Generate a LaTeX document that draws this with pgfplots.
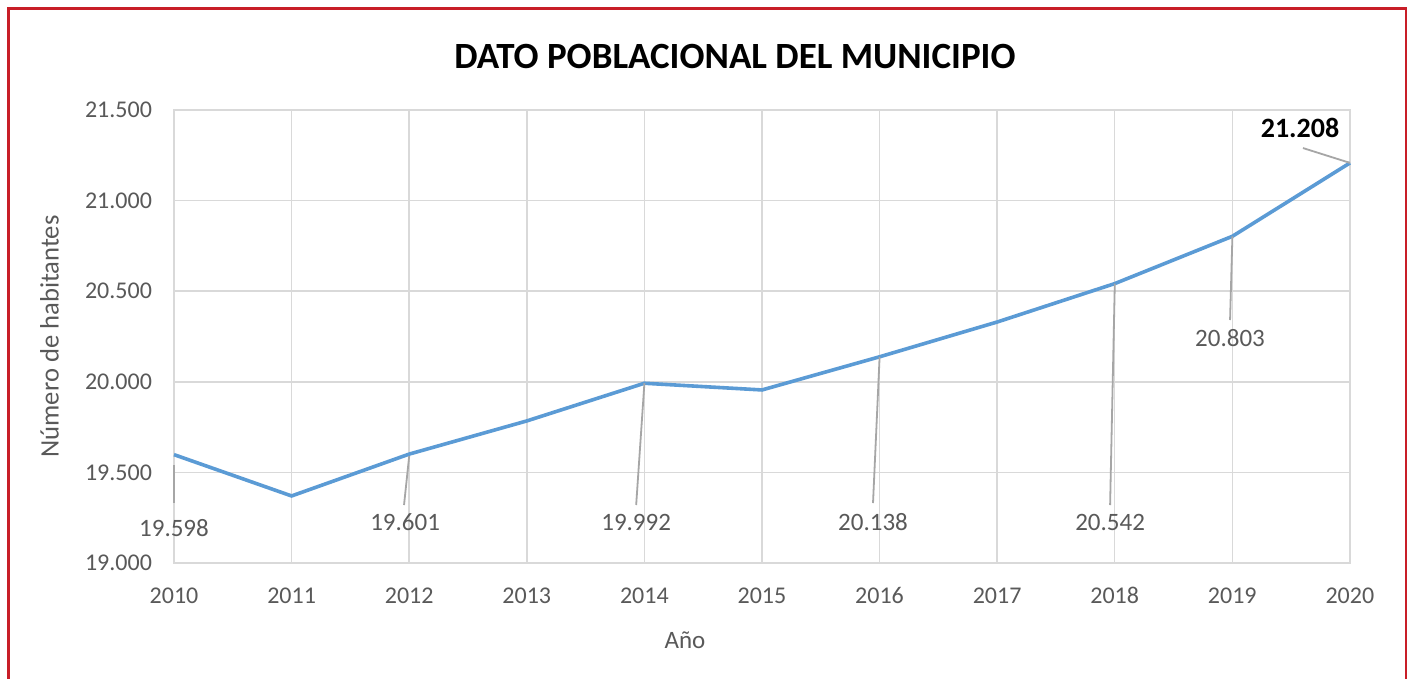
\documentclass[border=0pt]{standalone}
\usepackage{pgfplots}
\pgfplotsset{compat=1.18}
\usepackage{fontspec}
\setmainfont{Carlito}
\definecolor{linebl}{HTML}{5B9BD5}
\definecolor{gridc}{HTML}{D9D9D9}
\definecolor{txtc}{HTML}{595959}
\definecolor{leadc}{HTML}{A6A6A6}
\begin{document}
\begin{tikzpicture}
\useasboundingbox (0pt,0pt) rectangle (706.5pt,339.5pt);
\clip (0pt,0pt) rectangle (706.5pt,339.5pt);
\fill[white] (0pt,0pt) rectangle (706.5pt,339.5pt);
\draw[color={rgb,255:red,200;green,30;blue,40},line width=1.2pt] (4.25pt,-5pt) rectangle (703pt,335.25pt);
\node[font=\fontsize{18.5}{22}\selectfont\bfseries,text=black] at (367.5pt,311pt) {DATO POBLACIONAL DEL MUNICIPIO};
\node[font=\fontsize{12.5}{14}\selectfont,text=txtc] at (342.5pt,19.5pt) {Año};
\begin{axis}[
  at={(87pt,58pt)}, anchor=south west,
  scale only axis, width=588pt, height=226.5pt,
  xmin=2010, xmax=2020, ymin=19000, ymax=21500,
  xtick={2010,...,2020}, ytick={19000,19500,...,21500},
  scaled y ticks=false,
  /pgf/number format/assume math mode=true,
  xticklabel style={/pgf/number format/1000 sep={}},
  yticklabel style={/pgf/number format/fixed,/pgf/number format/precision=0,/pgf/number format/1000 sep={.}},
  tick label style={font=\fontsize{12}{14}\selectfont, text=txtc},
  xticklabel style={anchor=north, text height=8.5pt, text depth=0pt, yshift=-8pt},
  yticklabel style={xshift=-7.5pt},
  major tick length=0pt,
  grid=major, major grid style={gridc, line width=0.75pt},
  axis line style={gridc, line width=0.75pt},
  ylabel={Número de habitantes},
  ylabel style={font=\fontsize{13.3}{16}\selectfont, text=txtc, at={(axis description cs:-0.092,0.5)}},
  clip=false,
]
\addplot[linebl, line width=1.8pt] coordinates {
(2010,19598) (2011,19370) (2012,19601) (2013,19784) (2014,19992) (2015,19955)
(2016,20138) (2017,20330) (2018,20542) (2019,20803) (2020,21208)};
% leader lines
\addplot[leadc, line width=0.9pt, forget plot] coordinates {(2010,19541) (2010,19331)};
\addplot[leadc, line width=0.9pt, forget plot] coordinates {(2012,19590) (2011.956,19320)};
\addplot[leadc, line width=0.9pt, forget plot] coordinates {(2014,19992) (2013.93,19320)};
\addplot[leadc, line width=0.9pt, forget plot] coordinates {(2016,20138) (2015.944,19331)};
\addplot[leadc, line width=0.9pt, forget plot] coordinates {(2018,20542) (2017.96,19320)};
\addplot[leadc, line width=0.9pt, forget plot] coordinates {(2019,20803) (2018.98,20341)};
\addplot[leadc, line width=0.9pt, forget plot] coordinates {(2020,21208) (2019.6,21290)};
% data labels
\node[font=\fontsize{12.5}{14}\selectfont,text=txtc] at (axis cs:2010,19193) {19.598};
\node[font=\fontsize{12.5}{14}\selectfont,text=txtc] at (axis cs:2011.965,19226) {19.601};
\node[font=\fontsize{12.5}{14}\selectfont,text=txtc] at (axis cs:2013.93,19226) {19.992};
\node[font=\fontsize{12.5}{14}\selectfont,text=txtc] at (axis cs:2015.944,19226) {20.138};
\node[font=\fontsize{12.5}{14}\selectfont,text=txtc] at (axis cs:2017.96,19226) {20.542};
\node[font=\fontsize{12.5}{14}\selectfont,text=txtc] at (axis cs:2018.98,20242) {20.803};
\node[font=\fontsize{14}{16}\selectfont\bfseries,text=black] at (axis cs:2019.575,21400) {21.208};
\end{axis}
\end{tikzpicture}
\end{document}
